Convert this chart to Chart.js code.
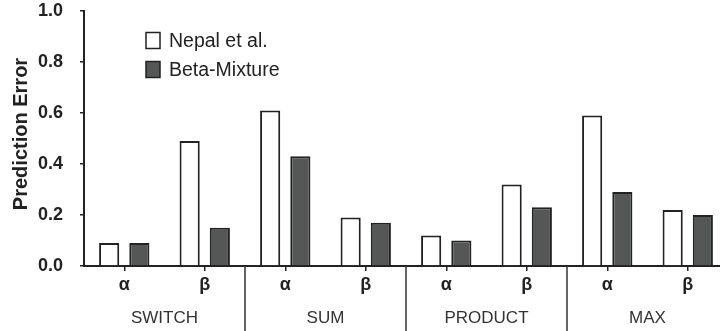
<!DOCTYPE html>
<html>
<head>
<meta charset="utf-8">
<script src="https://cdn.jsdelivr.net/npm/chart.js@4"></script>
<style>
  html, body { margin: 0; padding: 0; background: #fff; overflow: hidden; width: 720px; height: 331px; }
  canvas { display: block; }
</style>
</head>
<body>
<canvas id="chart" width="740" height="331" style="width:740px;height:331px"></canvas>
<script>
// Parameters within each combination rule
const categories = ['α', 'β', 'α', 'β', 'α', 'β', 'α', 'β'];
// Combination rules, two parameters each
const groups = ['SWITCH', 'SUM', 'PRODUCT', 'MAX'];
// Prediction error per method
const nepal = [0.09, 0.49, 0.61, 0.19, 0.12, 0.32, 0.59, 0.22];
const betaMixture = [0.09, 0.15, 0.43, 0.17, 0.10, 0.23, 0.29, 0.20];
const seriesNames = ['Nepal et al.', 'Beta-Mixture'];

const FONT = '"Liberation Sans", Arial, Helvetica, sans-serif';
const INK = '#222';

const extras = {
  id: 'extras',
  afterDraw(chart) {
    const ctx = chart.ctx;
    const x = chart.scales.x;
    const area = chart.chartArea;
    ctx.save();

    // group separators below the x axis
    ctx.strokeStyle = '#333';
    ctx.lineWidth = 1.5;
    for (let g = 1; g < groups.length; g++) {
      const px = (x.getPixelForValue(g * 2 - 1) + x.getPixelForValue(g * 2)) / 2;
      ctx.beginPath();
      ctx.moveTo(px, area.bottom);
      ctx.lineTo(px, chart.height);
      ctx.stroke();
    }

    // group names
    ctx.fillStyle = '#333';
    ctx.font = '17px ' + FONT;
    ctx.textAlign = 'center';
    ctx.textBaseline = 'middle';
    groups.forEach((g, i) => {
      const px = (x.getPixelForValue(i * 2) + x.getPixelForValue(i * 2 + 1)) / 2;
      ctx.fillText(g, px, 318);
    });

    // y axis title
    ctx.save();
    ctx.translate(21, 134);
    ctx.rotate(-Math.PI / 2);
    ctx.font = 'bold 20px ' + FONT;
    ctx.fillStyle = INK;
    ctx.fillText('Prediction Error', 0, 0);
    ctx.restore();

    // legend
    ctx.font = '19.5px ' + FONT;
    ctx.textAlign = 'left';
    chart.data.datasets.forEach((ds, i) => {
      const cy = 40.5 + i * 29;
      ctx.fillStyle = ds.backgroundColor;
      ctx.fillRect(146, cy - 8, 14, 16);
      ctx.strokeStyle = INK;
      ctx.lineWidth = 1.5;
      ctx.strokeRect(146, cy - 8, 14, 16);
      ctx.fillStyle = INK;
      ctx.fillText(ds.label, 169, cy + 1);
    });
    ctx.restore();
  }
};

new Chart(document.getElementById('chart'), {
  type: 'bar',
  data: {
    labels: categories,
    datasets: [
      { label: seriesNames[0], data: nepal, backgroundColor: '#ffffff', borderColor: INK, borderWidth: 2 },
      { label: seriesNames[1], data: betaMixture, backgroundColor: '#555757', borderColor: INK, borderWidth: 2 }
    ]
  },
  options: {
    responsive: false,
    animation: false,
    devicePixelRatio: 1,
    layout: { padding: { top: 11, right: 12, left: 0, bottom: 0 } },
    datasets: { bar: { categoryPercentage: 0.75, barPercentage: 0.667 } },
    plugins: { legend: { display: false }, tooltip: { enabled: false } },
    scales: {
      x: {
        afterFit(s) { s.height = 65; s.paddingLeft = 0; s.paddingRight = 0; },
        border: { color: INK, width: 2 },
        grid: { offset: false, drawOnChartArea: false, drawTicks: true, tickLength: 5, color: INK, lineWidth: 1.5 },
        ticks: { color: INK, font: { family: FONT, size: 18, weight: 'bold' }, padding: 3, maxRotation: 0 }
      },
      y: {
        min: 0,
        max: 1,
        afterFit(s) { s.width = 84; s.paddingTop = 0; s.paddingBottom = 0; },
        border: { color: INK, width: 2 },
        grid: { drawOnChartArea: false, drawTicks: true, tickLength: 4, color: INK, lineWidth: 1.5 },
        ticks: {
          stepSize: 0.2,
          color: INK,
          padding: 17,
          font: { family: FONT, size: 18, weight: 'bold' },
          callback: v => v.toFixed(1)
        }
      }
    }
  },
  plugins: [extras]
});
</script>
</body>
</html>
